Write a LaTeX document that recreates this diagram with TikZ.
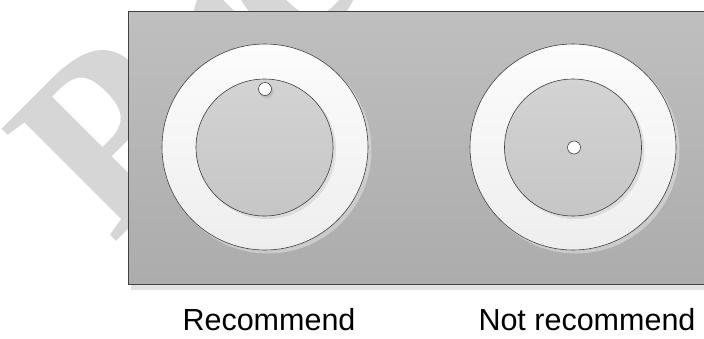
\documentclass[tikz,border=0pt]{standalone}
\usepackage{fontspec}
\setmainfont{Liberation Sans}
\newfontfamily\wmfont{Liberation Serif}
\definecolor{rectTop}{HTML}{BFBFBF}
\definecolor{rectBot}{HTML}{ACACAC}
\definecolor{ringTop}{HTML}{FCFCFC}
\definecolor{ringBot}{HTML}{EEEEEE}
\definecolor{diskTop}{HTML}{D3D3D3}
\definecolor{diskBot}{HTML}{C6C6C6}
\definecolor{edge}{HTML}{404040}
\definecolor{wm}{HTML}{D6D6D6}
\definecolor{shadowc}{HTML}{E2E2E2}
\tikzset{
  ring/.style={circle, inner sep=0pt, minimum size=206pt, draw=edge, line width=0.6pt, top color=ringTop, bottom color=ringBot},
  disk/.style={circle, inner sep=0pt, minimum size=137pt, draw=edge, line width=0.6pt, top color=diskTop, bottom color=diskBot},
  hole/.style={circle, inner sep=0pt, minimum size=13pt, draw=edge, line width=0.6pt, fill=white},
  shadowring/.style={circle, inner sep=0pt, minimum size=207pt, fill=shadowc, opacity=0.55},
  shadowdisk/.style={circle, inner sep=0pt, minimum size=138pt, fill=gray, opacity=0.18},
  shadowhole/.style={circle, inner sep=0pt, minimum size=14pt, fill=gray, opacity=0.25},
  caption/.style={font=\fontsize{30.5}{30.5}\selectfont, anchor=base, inner sep=0pt}
}
\begin{document}
\begin{tikzpicture}[x=1pt,y=-1pt]
\useasboundingbox (0,0) rectangle (704,338);
\fill[white] (0,0) rectangle (704,338);
% watermark
\node[anchor=base west, rotate=45, inner sep=0pt, text=wm, font=\wmfont\bfseries\fontsize{245}{245}\selectfont] (wm) at (112,246) {Preliminary};
% board shadow and board
\fill[shadowc] (131,284) rectangle (706,290);
\shade[top color=rectTop, bottom color=rectBot, draw=edge, line width=0.7pt] (128,11) rectangle (708,284);
% left connector
\node[shadowring] (ls1) at (268,150) {};
\node[ring] (louter) at (265,147) {};
\node[shadowdisk] (ls2) at (267,150) {};
\node[disk] (linner) at (264.5,147.5) {};
\node[shadowhole] (ls3) at (266.5,91) {};
\node[hole] (lhole) at (265,89) {};
% right connector
\node[shadowring] (rs1) at (576,150) {};
\node[ring] (router) at (573,147) {};
\node[shadowdisk] (rs2) at (575.5,150) {};
\node[disk] (rinner) at (573,147.5) {};
\node[hole] (rhole) at (574,147.5) {};
% captions
\node[caption] (lcap) at (269,330) {Recommend};
\node[caption] (rcap) at (587,330) {Not recommend};
\end{tikzpicture}
\end{document}
